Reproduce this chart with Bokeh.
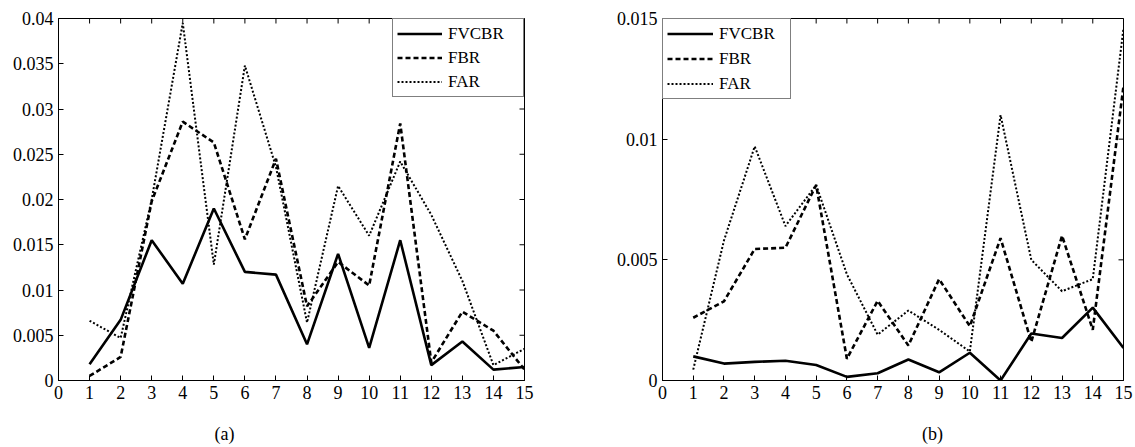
import math
from bokeh.plotting import figure
from bokeh.models import (Range1d, FixedTicker, CustomJSTickFormatter,
                          Legend, LegendItem)
from bokeh.core.properties import value
from bokeh.layouts import row, column
from bokeh.embed import file_html
from bokeh.resources import INLINE

x = [1, 2, 3, 4, 5, 6, 7, 8, 9, 10, 11, 12, 13, 14, 15]
x_ticks = list(range(0, 16))

# panel (a)
a_fvcbr = [0.0018, 0.0067, 0.0155, 0.0107, 0.0190, 0.0120, 0.0117, 0.0040,
           0.0140, 0.0036, 0.0155, 0.0017, 0.0043, 0.0012, 0.0015]
a_fbr = [0.0005, 0.0026, 0.0198, 0.0286, 0.0263, 0.0156, 0.0245, 0.0082,
         0.0131, 0.0105, 0.0284, 0.0020, 0.0076, 0.0055, 0.0012]
a_far = [0.0066, 0.0047, 0.0200, 0.0395, 0.0128, 0.0348, 0.0236, 0.0064,
         0.0215, 0.0160, 0.0242, 0.0183, 0.0110, 0.0017, 0.0035]
a_y_ticks = [0, 0.005, 0.01, 0.015, 0.02, 0.025, 0.03, 0.035, 0.04]

# panel (b)
b_fvcbr = [0.0010, 0.0007, 0.00077, 0.00082, 0.00064, 0.00015, 0.0003, 0.00087,
           0.00034, 0.00115, 0.0000, 0.00195, 0.00176, 0.00302, 0.00135]
b_fbr = [0.0026, 0.00328, 0.00545, 0.0055, 0.0081, 0.0009, 0.0033, 0.00145,
         0.0042, 0.00225, 0.0059, 0.0016, 0.0060, 0.0021, 0.0122]
b_far = [0.00045, 0.0058, 0.0097, 0.0064, 0.0081, 0.0044, 0.0019, 0.0029,
         0.0021, 0.0012, 0.0110, 0.0050, 0.0037, 0.0042, 0.0146]
b_y_ticks = [0, 0.005, 0.01, 0.015]

series_names = ["FVCBR", "FBR", "FAR"]
captions = ["(a)", "(b)"]
FONT = "Liberation Serif"

fmt = CustomJSTickFormatter(code="return String(Math.round(tick*1000)/1000);")


def style_axis(ax):
    ax.major_tick_in = 5
    ax.major_tick_out = 0
    ax.minor_tick_in = 0
    ax.minor_tick_out = 0
    ax.axis_line_color = "black"
    ax.axis_line_width = 1
    ax.major_tick_line_color = "black"
    ax.major_label_text_font = FONT
    ax.major_label_text_color = "black"
    ax.major_label_text_font_size = "18px"
    ax.major_label_standoff = 5


def panel(width, height, ymax, yticks, ys, borders, legend_loc, leg_cfg):
    left, right, top, bottom = borders
    p = figure(width=width, height=height, output_backend="svg", toolbar_location=None,
               x_range=Range1d(0, 15), y_range=Range1d(0, ymax),
               min_border_left=left, min_border_right=right,
               min_border_top=top, min_border_bottom=bottom)
    p.xgrid.visible = False
    p.ygrid.visible = False
    p.outline_line_color = "black"
    p.outline_line_width = 1
    p.background_fill_color = "white"
    p.border_fill_color = "white"

    p.xaxis.ticker = FixedTicker(ticks=x_ticks)
    p.yaxis.ticker = FixedTicker(ticks=yticks)
    p.yaxis.formatter = fmt
    for ax in p.xaxis:
        style_axis(ax)
    for ax in p.yaxis:
        style_axis(ax)

    # mirrored inward ticks on the top and right edges (clipped to the frame)
    p.scatter(x_ticks, [ymax] * len(x_ticks), marker="dash", size=10,
              angle=math.pi / 2, line_color="black", line_width=1)
    p.scatter([15] * len(yticks), yticks, marker="dash", size=10,
              line_color="black", line_width=1)

    r1 = p.line(x, ys[0], line_color="black", line_width=2.6)
    r2 = p.line(x, ys[1], line_color="black", line_width=2.6, line_dash="5 3")
    r3 = p.line(x, ys[2], line_color="black", line_width=2, line_dash="2 2")

    leg = Legend(items=[LegendItem(label=series_names[0], renderers=[r1]),
                        LegendItem(label=series_names[1], renderers=[r2]),
                        LegendItem(label=series_names[2], renderers=[r3])],
                 location=legend_loc, margin=0)
    leg.label_text_font = FONT
    leg.label_text_font_size = "17px"
    leg.label_text_color = "black"
    leg.border_line_color = "black"
    leg.border_line_width = 1
    leg.background_fill_color = "white"
    leg.background_fill_alpha = 1
    leg.padding = leg_cfg["padding"]
    leg.spacing = leg_cfg["spacing"]
    leg.label_height = leg_cfg["label_height"]
    leg.glyph_height = leg_cfg["label_height"]
    leg.glyph_width = leg_cfg["glyph_width"]
    leg.label_standoff = 6
    leg.label_width = leg_cfg["label_width"]
    p.add_layout(leg, "center")
    return p


p1 = panel(560, 420, 0.04, a_y_ticks, [a_fvcbr, a_fbr, a_far], (58, 36, 16, 36),
           "top_right",
           dict(padding=4, spacing=3, label_height=21, glyph_width=45, label_width=71))
p2 = panel(575, 420, 0.015, b_y_ticks, [b_fvcbr, b_fbr, b_far], (102, 12, 18, 40),
           "top_left",
           dict(padding=4, spacing=4, label_height=21, glyph_width=46, label_width=67))

# caption strip under the two panels
cap = figure(width=1135, height=27, output_backend="svg", toolbar_location=None,
             x_range=Range1d(0, 1135), y_range=Range1d(0, 27),
             x_axis_type=None, y_axis_type=None,
             min_border_left=0, min_border_right=0, min_border_top=0, min_border_bottom=0)
cap.outline_line_color = None
cap.xgrid.visible = False
cap.ygrid.visible = False
cap.text(x=[224, 932], y=[14, 14], text=captions, text_font=value(FONT),
         text_font_size="18px", text_color="black", text_align="center",
         text_baseline="middle")

layout = column(row(p1, p2), cap)
open("out.html", "w").write(file_html(layout, INLINE))
